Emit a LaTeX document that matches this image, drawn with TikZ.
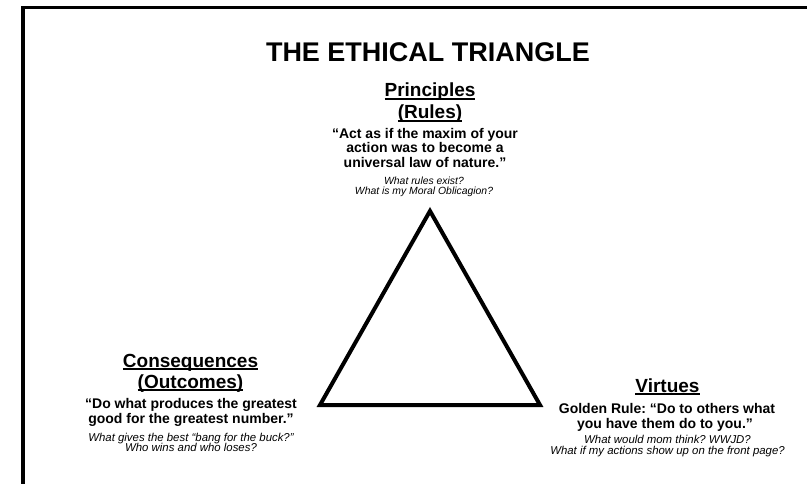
\documentclass[tikz,border=0pt]{standalone}
\usepackage{fontspec}
\setmainfont{Liberation Sans}
\frenchspacing
\newsavebox\ulbox
\newcommand\myul[1]{\sbox\ulbox{#1}\rlap{\rule[-2.6pt]{\wd\ulbox}{1.5pt}}\usebox\ulbox}
\begin{document}
\begin{tikzpicture}[x=1pt,y=-1pt,
  lbl/.style={anchor=base, inner sep=0pt, outer sep=0pt},
  ttl/.style={lbl, font=\fontsize{27}{27}\selectfont\bfseries},
  head/.style={lbl, font=\fontsize{19}{19}\selectfont\bfseries},
  quot/.style={lbl, font=\fontsize{14}{14}\selectfont\bfseries},
  ask/.style={lbl, font=\fontsize{11.4}{11.4}\selectfont\itshape},
  asksm/.style={lbl, font=\fontsize{10.4}{10.4}\selectfont\itshape},
  frame/.style={line width=3.5pt},
  edge/.style={line width=4pt, line join=miter}]
\useasboundingbox (0,0) rectangle (807,484);
\clip (0,0) rectangle (807,484);
% frame
\draw[frame] (23,495) -- (23,7.5) -- (820,7.5);
% title
\node[ttl] (title) at (428,61.7) {THE ETHICAL TRIANGLE};
% top: principles
\node[head] (p1) at (430,97) {\myul{Principles}};
\node[head] (p2) at (430,119) {\myul{(Rules)}};
\node[quot] (pq1) at (425,138.5) {“Act as if the maxim of your};
\node[quot] (pq2) at (425,153) {action was to become a};
\node[quot] (pq3) at (425,167.5) {universal law of nature.”};
\node[asksm] (pa1) at (424,185) {What rules exist?};
\node[asksm] (pa2) at (424,195) {What is my Moral Oblicagion?};
% left: consequences
\node[head] (c1) at (190.5,367) {\myul{Consequences}};
\node[head] (c2) at (190.5,388) {\myul{(Outcomes)}};
\node[quot] (cq1) at (191,408.3) {“Do what produces the greatest};
\node[quot] (cq2) at (191,423.3) {good for the greatest number.”};
\node[ask] (ca1) at (191,441) {What gives the best “bang for the buck?”};
\node[ask] (ca2) at (191,451) {Who wins and who loses?};
% right: virtues
\node[head] (v1) at (667.5,392) {\myul{Virtues}};
\node[quot] (vq1) at (667,413) {Golden Rule: “Do to others what};
\node[quot] (vq2) at (665,428) {you have them do to you.”};
\node[ask] (va1) at (667.5,443.3) {What would mom think? WWJD?};
\node[ask] (va2) at (667.5,454) {What if my actions show up on the front page?};
% triangle
\coordinate (apex) at (430,211);
\coordinate (bl) at (320,405);
\coordinate (br) at (540,405);
\draw[edge] (apex) -- (br) -- (bl) -- cycle;
\end{tikzpicture}
\end{document}
